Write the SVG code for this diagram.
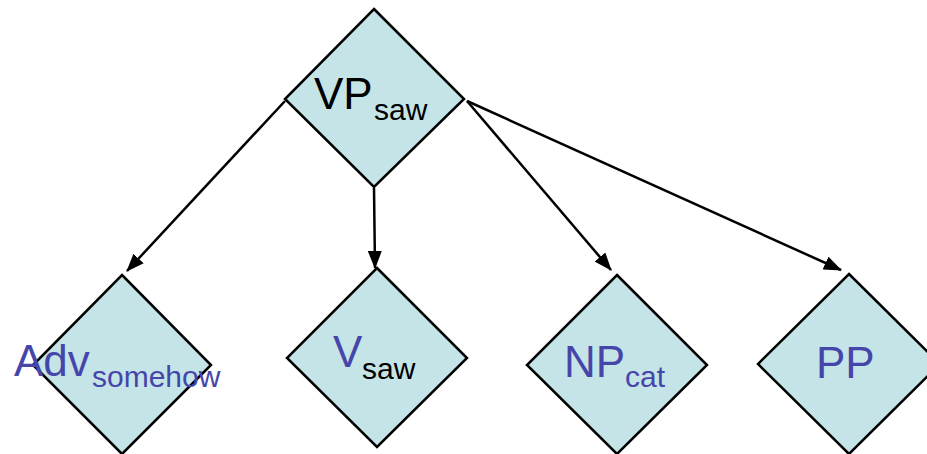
<svg xmlns="http://www.w3.org/2000/svg" width="927" height="454" viewBox="0 0 927 454">
<defs>
<style>
.d{fill:#C4E4E7;stroke:#000;stroke-width:2.5}
.t{font-family:"Liberation Sans",Arial,sans-serif;font-size:44px}
.s{font-family:"Liberation Sans",Arial,sans-serif;font-size:30px}
.b{fill:#4646AA}
.k{fill:#000}
.c{stroke:#000;stroke-width:2.5;fill:none;marker-end:url(#ah)}
</style>
<marker id="ah" markerUnits="userSpaceOnUse" markerWidth="18" markerHeight="14" refX="17" refY="7" orient="auto">
<path d="M0,0 L18,7 L0,14 Z" fill="#000"/>
</marker>
</defs>
<g id="adv">
<polygon class="d" points="122,275 211,365 122,454 33,365"/>
<text class="t b" x="14" y="376">Adv</text>
<text class="s b" x="92" y="387">somehow</text>
</g>
<g id="v">
<polygon class="d" points="377,268 467,358 377,447 287,358"/>
<text class="t b" x="333" y="367">V</text>
<text class="s k" x="362" y="379">saw</text>
</g>
<g id="np">
<polygon class="d" points="617,275 707,365 617,454 527,365"/>
<text class="t b" x="564" y="377">NP</text>
<text class="s b" x="625" y="387">cat</text>
</g>
<g id="pp">
<polygon class="d" points="849,274 940,364 849,454 758,364"/>
<text class="t b" x="816" y="378">PP</text>
</g>
<g id="vp">
<polygon class="d" points="374,9 464,99 374,187 285,99"/>
<text class="t k" x="314" y="109">VP</text>
<text class="s k" x="374" y="120">saw</text>
</g>
<g id="connectors">
<line class="c" x1="285" y1="101" x2="127" y2="271"/>
<line class="c" x1="374" y1="188" x2="375" y2="268"/>
<line class="c" x1="467" y1="101" x2="611" y2="270"/>
<line class="c" x1="467" y1="101" x2="841" y2="270"/>
</g>
</svg>
